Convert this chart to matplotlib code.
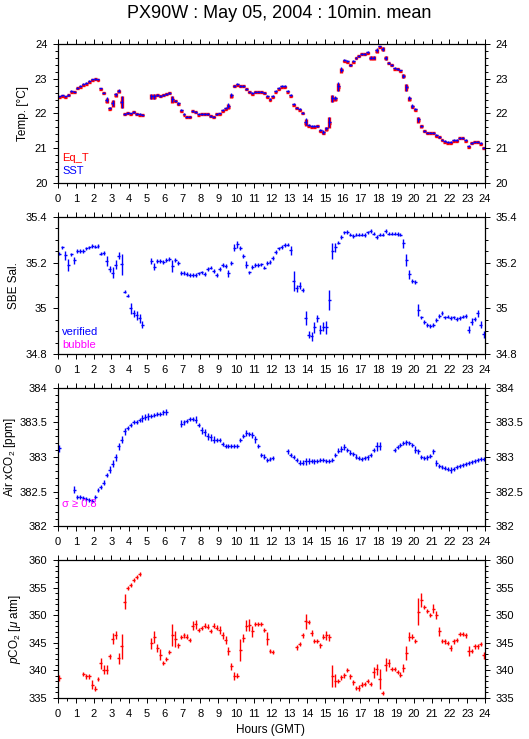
import numpy as np
import matplotlib
matplotlib.use('Agg')
import matplotlib.pyplot as plt
from matplotlib.ticker import MultipleLocator, FuncFormatter

plt.rcParams['font.family'] = ['Liberation Sans', 'DejaVu Sans']
plt.rcParams['mathtext.fontset'] = 'custom'
plt.rcParams['mathtext.rm'] = 'Liberation Sans'
plt.rcParams['mathtext.it'] = 'Liberation Sans:italic'

nan = np.nan

# 10 minute bins over the day (hour of bin centre)
hours = (np.arange(144) + 0.5) / 6

# ---- data, one row per hour ----
sst = [
    22.49, 22.52, 22.49, 22.54, 22.65, 22.63,
    22.74, 22.78, 22.84, 22.88, 22.93, 22.98,
    22.99, 22.98, 22.72, 22.60, 22.39, 22.16,
    22.31, 22.55, 22.66, 22.34, 21.99, 22.02,
    22.00, 22.05, 21.99, 21.98, 21.97, nan,
    nan, 22.49, 22.49, 22.54, 22.50, 22.54,
    22.56, 22.59, 22.42, 22.37, 22.29, 22.10,
    21.99, 21.91, 21.91, 22.07, 22.05, 21.98,
    21.99, 21.99, 21.99, 21.93, 21.91, 21.99,
    22.00, 22.10, 22.15, 22.22, 22.53, 22.80,
    22.85, 22.80, 22.80, 22.71, 22.63, 22.58,
    22.63, 22.63, 22.63, 22.60, 22.50, 22.41,
    22.50, 22.65, 22.73, 22.78, 22.78, 22.65,
    22.53, 22.27, 22.17, 22.12, 22.02, 21.76,
    21.67, 21.64, 21.64, 21.65, 21.52, 21.47,
    21.57, 21.76, 22.44, 22.44, 22.78, 23.26,
    23.53, 23.50, 23.40, 23.50, 23.60, 23.66,
    23.72, 23.72, 23.76, 23.61, 23.61, 23.82,
    23.93, 23.86, 23.60, 23.45, 23.40, 23.31,
    23.28, 23.24, 23.08, 22.76, 22.44, 22.22,
    22.13, 21.83, 21.64, 21.50, 21.45, 21.45,
    21.45, 21.38, 21.33, 21.25, 21.20, 21.18,
    21.18, 21.23, 21.23, 21.30, 21.30, 21.23,
    21.06, 21.16, 21.19, 21.19, 21.14, 21.02,
]

eq_t = [
    22.47, 22.50, 22.47, 22.52, 22.63, 22.61,
    22.72, 22.76, 22.82, 22.86, 22.91, 22.97,
    22.98, 22.97, 22.70, 22.58, 22.37, 22.14,
    22.29, 22.53, 22.64, 22.32, 21.98, 22.01,
    21.99, 22.04, 21.98, 21.97, 21.96, nan,
    nan, 22.48, 22.48, 22.53, 22.49, 22.53,
    22.55, 22.58, 22.40, 22.35, 22.27, 22.08,
    21.97, 21.90, 21.90, 22.06, 22.03, 21.97,
    21.98, 21.98, 21.98, 21.92, 21.90, 21.98,
    21.99, 22.08, 22.13, 22.20, 22.51, 22.78,
    22.83, 22.78, 22.78, 22.69, 22.61, 22.56,
    22.61, 22.61, 22.61, 22.58, 22.48, 22.39,
    22.48, 22.63, 22.71, 22.76, 22.77, 22.63,
    22.51, 22.25, 22.15, 22.10, 22.00, 21.74,
    21.65, 21.62, 21.62, 21.63, 21.50, 21.45,
    21.55, 21.74, 22.42, 22.42, 22.76, 23.24,
    23.52, 23.49, 23.39, 23.49, 23.59, 23.65,
    23.71, 23.71, 23.75, 23.60, 23.60, 23.80,
    23.91, 23.85, 23.59, 23.44, 23.39, 23.29,
    23.27, 23.23, 23.07, 22.75, 22.42, 22.20,
    22.11, 21.82, 21.63, 21.49, 21.43, 21.43,
    21.43, 21.36, 21.31, 21.23, 21.18, 21.16,
    21.16, 21.21, 21.21, 21.28, 21.28, 21.21,
    21.04, 21.14, 21.17, 21.17, 21.12, 21.00,
]

sal = [
    35.240, 35.267, 35.233, 35.190, 35.236, 35.210,
    35.250, 35.252, 35.252, 35.262, 35.267, 35.274,
    35.270, 35.272, 35.240, 35.243, 35.207, 35.172,
    35.156, 35.190, 35.230, 35.192, 35.073, 35.056,
    35.000, 34.979, 34.970, 34.957, 34.928, nan,
    nan, 35.207, 35.182, 35.208, 35.207, 35.204,
    35.211, 35.215, 35.185, 35.211, 35.197, 35.156,
    35.156, 35.150, 35.146, 35.146, 35.146, 35.153,
    35.157, 35.150, 35.172, 35.178, 35.163, 35.146,
    35.172, 35.190, 35.185, 35.153, 35.197, 35.265,
    35.281, 35.265, 35.230, 35.190, 35.157, 35.182,
    35.190, 35.190, 35.192, 35.178, 35.197, 35.204,
    35.221, 35.247, 35.262, 35.269, 35.277, 35.279,
    35.255, 35.120, 35.088, 35.099, 35.080, 34.957,
    34.884, 34.877, 34.916, 34.957, 34.906, 34.920,
    34.916, 35.037, 35.250, 35.267, 35.288, 35.313,
    35.332, 35.335, 35.323, 35.317, 35.323, 35.323,
    35.323, 35.320, 35.332, 35.338, 35.327, 35.313,
    35.323, 35.323, 35.338, 35.327, 35.327, 35.327,
    35.324, 35.323, 35.284, 35.211, 35.149, 35.120,
    35.114, 34.993, 34.960, 34.939, 34.928, 34.923,
    34.928, 34.950, 34.967, 34.979, 34.960, 34.964,
    34.957, 34.960, 34.954, 34.957, 34.964, 34.967,
    34.906, 34.942, 34.954, 34.979, 34.928, 34.887,
]

xco2 = [
    383.128, nan, nan, nan, nan, 382.523,
    382.417, 382.417, 382.402, 382.387, 382.378, 382.368,
    382.426, 382.523, 382.571, 382.630, 382.740, 382.814,
    382.900, 382.993, 383.153, 383.249, 383.370, 383.419,
    383.467, 383.501, 383.501, 383.540, 383.564, 383.579,
    383.588, 383.598, 383.613, 383.627, 383.627, 383.646,
    383.651, nan, nan, nan, nan, 383.482,
    383.501, 383.525, 383.550, 383.554, 383.540, 383.467,
    383.385, 383.356, 383.298, 383.288, 383.249, 383.249,
    383.249, 383.191, 383.162, 383.162, 383.162, 383.162,
    383.162, 383.249, 383.298, 383.346, 383.337, 383.322,
    383.259, 383.162, 383.031, 383.007, 382.959, 382.973,
    382.983, nan, nan, nan, nan, 383.080,
    383.031, 382.998, 382.959, 382.920, 382.920, 382.935,
    382.944, 382.944, 382.935, 382.944, 382.959, 382.959,
    382.944, 382.944, 382.959, 383.031, 383.094, 383.114,
    383.143, 383.104, 383.065, 383.046, 383.007, 382.983,
    382.969, 382.983, 382.993, 383.031, 383.104, 383.153,
    383.162, nan, nan, nan, nan, 383.104,
    383.143, 383.177, 383.201, 383.211, 383.201, 383.177,
    383.104, 383.080, 382.998, 382.983, 382.993, 383.017,
    383.080, 382.910, 382.872, 382.852, 382.838, 382.823,
    382.814, 382.823, 382.852, 382.872, 382.886, 382.901,
    382.910, 382.925, 382.944, 382.959, 382.969, 382.969,
]

pco2 = [
    338.61, nan, nan, nan, nan, nan,
    nan, nan, 339.34, 338.92, 338.92, 337.41,
    336.69, 338.49, 341.33, 340.12, 340.12, 342.53,
    345.72, 346.45, 342.23, 344.34, 352.47, 354.88,
    355.48, 356.39, 356.87, 357.47, nan, nan,
    nan, 344.94, 346.02, 344.04, 342.83, 341.33,
    342.11, 343.31, 346.33, 345.66, 344.52, 346.02,
    346.33, 346.14, 345.54, 348.13, 348.37, 347.35,
    347.65, 348.13, 347.95, 347.17, 348.13, 347.77,
    347.35, 346.33, 345.54, 343.55, 340.72, 338.92,
    339.04, 343.73, 345.84, 348.13, 348.25, 347.05,
    348.37, 348.37, 348.37, 347.35, 345.72, 343.55,
    343.31, nan, nan, nan, nan, nan,
    nan, nan, 344.16, 344.76, 346.33, 348.86,
    348.73, 346.75, 345.36, 345.36, 344.52, 346.14,
    346.33, 345.96, 338.92, 338.13, 338.13, 338.73,
    339.10, 340.12, 338.92, 337.83, 336.81, 336.81,
    337.41, 337.53, 338.13, 337.53, 339.64, 340.24,
    338.49, 335.90, 341.02, 341.33, 340.30, 340.30,
    339.70, 339.22, 340.42, 343.13, 346.14, 346.14,
    345.36, 350.66, 352.77, 351.45, 350.78, 350.06,
    351.14, 350.06, 347.05, 345.36, 345.24, 344.94,
    344.04, 345.24, 345.54, 346.57, 346.57, 346.33,
    343.43, 343.55, 344.34, 344.34, 344.76, 342.71,
]

# standard deviations: typical value plus the larger ones (bin index: sd)
sst_sd = (0.025, {16: 0.07, 17: 0.04, 18: 0.09, 19: 0.05, 20: 0.04, 21: 0.17,
                  31: 0.07, 32: 0.07, 38: 0.09, 40: 0.04, 57: 0.07, 58: 0.06,
                  83: 0.1, 89: 0.05, 90: 0.05, 91: 0.15, 92: 0.1, 93: 0.05,
                  94: 0.12, 95: 0.08, 105: 0.05, 106: 0.05, 107: 0.06,
                  109: 0.05, 110: 0.05, 116: 0.06, 117: 0.1, 118: 0.06,
                  119: 0.05, 121: 0.08, 122: 0.04})
sal_sd = (0.008, {2: 0.02, 3: 0.025, 5: 0.015, 16: 0.02, 17: 0.015, 18: 0.025,
                  19: 0.02, 20: 0.015, 21: 0.045, 24: 0.025, 25: 0.015,
                  26: 0.02, 27: 0.02, 28: 0.015, 31: 0.015, 32: 0.015,
                  38: 0.025, 57: 0.015, 59: 0.015, 60: 0.015, 63: 0.015,
                  78: 0.02, 79: 0.045, 80: 0.015, 81: 0.015, 83: 0.03,
                  84: 0.015, 85: 0.02, 86: 0.025, 87: 0.015, 88: 0.02,
                  89: 0.02, 90: 0.03, 91: 0.045, 92: 0.035, 93: 0.02,
                  116: 0.02, 117: 0.025, 118: 0.02, 121: 0.025, 138: 0.015,
                  139: 0.015, 141: 0.015, 142: 0.015, 143: 0.015})
xco2_sd = (0.03, {0: 0.05, 5: 0.05, 17: 0.05, 18: 0.05, 19: 0.05, 20: 0.05,
                  21: 0.05, 22: 0.05, 28: 0.05, 29: 0.05, 30: 0.05, 35: 0.04,
                  36: 0.04, 41: 0.05, 42: 0.04, 46: 0.05, 48: 0.05, 49: 0.05,
                  50: 0.05, 51: 0.05, 52: 0.05, 63: 0.04, 65: 0.04, 66: 0.05,
                  83: 0.05, 84: 0.04, 95: 0.04, 96: 0.04, 107: 0.07,
                  108: 0.06, 120: 0.05, 126: 0.04, 127: 0.04, 132: 0.04})
pco2_sd = (0.4, {0: 0.5, 11: 0.8, 14: 1.0, 15: 0.8, 16: 0.8, 18: 1.0, 19: 0.7,
                 20: 1.0, 21: 2.2, 22: 1.3, 31: 1.0, 32: 1.1, 33: 0.7,
                 34: 1.0, 38: 2.0, 39: 1.5, 45: 0.8, 46: 0.8, 54: 0.7,
                 55: 0.7, 56: 0.7, 57: 0.7, 58: 0.7, 59: 0.7, 61: 2.0,
                 62: 0.7, 63: 1.0, 64: 1.1, 65: 1.0, 70: 1.2, 83: 1.4,
                 85: 0.6, 90: 0.8, 91: 0.6, 92: 2.0, 93: 1.2, 101: 0.6,
                 106: 1.0, 107: 1.0, 108: 1.8, 110: 1.2, 111: 0.8, 116: 0.8,
                 117: 1.2, 118: 0.8, 121: 2.5, 122: 1.2, 126: 0.8, 127: 0.7,
                 128: 0.8, 132: 0.6, 138: 0.9, 143: 0.6})


def sd_array(sd):
    base, big = sd
    e = np.full(len(hours), base)
    for i, v in big.items():
        e[i] = v
    return e


def crosses(ax, y, sd, color, lw=1.0):
    ax.errorbar(hours, y, xerr=1 / 12, yerr=sd_array(sd), fmt='none',
                ecolor=color, elinewidth=lw, capsize=0)


def style(ax, ylim, major, minor):
    ax.set_xlim(0, 24)
    ax.set_ylim(*ylim)
    ax.xaxis.set_major_locator(MultipleLocator(1))
    ax.xaxis.set_minor_locator(MultipleLocator(0.5))
    ax.yaxis.set_major_locator(MultipleLocator(major))
    ax.yaxis.set_minor_locator(MultipleLocator(minor))
    ax.yaxis.set_major_formatter(FuncFormatter(lambda v, p: f'{round(v, 3):g}'))
    ax.tick_params(which='both', direction='out', top=True, right=True,
                   labelright=True, labelsize=8, width=0.7, pad=4,
                   colors='black')
    ax.tick_params(which='major', length=3.6)
    ax.tick_params(which='minor', length=2.2)
    for s in ax.spines.values():
        s.set_linewidth(0.9)


fig = plt.figure(figsize=(5.29, 7.39), dpi=100)
L, W = 0.1096, 0.8072

ax1 = fig.add_axes([L, 0.7524, W, 0.1881])
ax2 = fig.add_axes([L, 0.5210, W, 0.1854])
ax3 = fig.add_axes([L, 0.2882, W, 0.1868])
ax4 = fig.add_axes([L, 0.0555, W, 0.1867])

# temperature
crosses(ax1, eq_t, sst_sd, 'red', lw=2.4)
crosses(ax1, sst, sst_sd, 'blue')
style(ax1, (20, 24), 1, 0.2)
ax1.set_ylabel('Temp. [°C]', fontsize=8.5)
ax1.text(0.01, 0.18, 'Eq_T', color='red', fontsize=8, transform=ax1.transAxes, va='center')
ax1.text(0.01, 0.085, 'SST', color='blue', fontsize=8, transform=ax1.transAxes, va='center')

# salinity
crosses(ax2, sal, sal_sd, 'blue')
style(ax2, (34.8, 35.4), 0.2, 0.05)
ax2.set_ylabel('SBE Sal.', fontsize=8.5)
ax2.text(0.01, 0.16, 'verified', color='blue', fontsize=8, transform=ax2.transAxes, va='center')
ax2.text(0.01, 0.066, 'bubble', color='magenta', fontsize=8, transform=ax2.transAxes, va='center')

# air xCO2
crosses(ax3, xco2, xco2_sd, 'blue')
style(ax3, (382, 384), 0.5, 0.1)
ax3.set_ylabel('Air xCO$_2$ [ppm]', fontsize=8.5, labelpad=1)
ax3.text(0.01, 0.16, 'σ ≥ 0.8', color='magenta', fontsize=8, transform=ax3.transAxes, va='center')

# pCO2
crosses(ax4, pco2, pco2_sd, 'red')
style(ax4, (335, 360), 5, 1)
ax4.set_ylabel('$p$CO$_2$ [$\\mu$ atm]', fontsize=8.5)

fig.text(0.527, 0.982, 'PX90W : May 05, 2004 : 10min. mean', ha='center', va='center', fontsize=13)
fig.text(0.512, 0.012, 'Hours (GMT)', ha='center', va='center', fontsize=8.5)

fig.savefig('out.png', dpi=100)
